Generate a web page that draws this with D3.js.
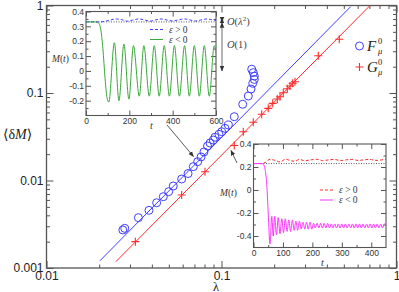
<!DOCTYPE html>
<html>
<head>
<meta charset="utf-8">
<script src="https://cdn.jsdelivr.net/npm/d3@7"></script>
<style>
  body { margin: 0; background: #fff; }
  svg { display: block; font-family: "Liberation Serif", "DejaVu Serif", serif; }
</style>
</head>
<body>
<svg id="chart" width="399" height="292"></svg>
<script>
// ---- main plot data: lambda vs <dM> ----
const fLambda = [0.0273, 0.0280, 0.0335, 0.0385, 0.0426, 0.0465, 0.0499, 0.0530, 0.0592, 0.0644,
    0.0690, 0.0731, 0.0764, 0.0794, 0.0832, 0.0860, 0.0898, 0.0918, 0.0967, 0.1003,
    0.1047, 0.1094, 0.1183, 0.1322, 0.1423, 0.1475, 0.1508, 0.1540, 0.1540, 0.1519, 0.1488];
const fValue = [0.00272, 0.00284, 0.00376, 0.00456, 0.00557, 0.00653, 0.00745, 0.00865, 0.0104, 0.0120,
    0.0144, 0.0164, 0.0186, 0.0212, 0.0248, 0.0268, 0.0290, 0.0312, 0.0337, 0.0361,
    0.0395, 0.0431, 0.0536, 0.0743, 0.0924, 0.111, 0.129, 0.143, 0.156, 0.171, 0.187];

const gLambda = [0.0322, 0.0592, 0.0805, 0.1183, 0.1332, 0.1519, 0.1697, 0.185, 0.1962, 0.2084,
    0.2159, 0.2254, 0.2377, 0.2462, 0.2551, 0.263, 0.3573, 0.4711];
const gValue = [0.0020, 0.00683, 0.0126, 0.0251, 0.0361, 0.0463, 0.0571, 0.0668, 0.0762, 0.0854,
    0.0907, 0.1008, 0.112, 0.1202, 0.129, 0.1346, 0.2668, 0.4109];

// fitted power-law lines (end points)
const fLine = [[0.0202, 0.00121], [0.547, 0.97]];
const gLine = [[0.0249, 0.00118], [0.706, 1.0]];

const xMajor = [0.01, 0.1, 1];
const xLabels = ["0.01", "0.1", "1"];
const yMajor = [0.001, 0.01, 0.1, 1];
const yLabels = ["0.001", "0.01", "0.1", "1"];

// ---- inset 1 (top left): M(t) ----
const in1Dotted = 0.33;
const in1Green = [[0, 0.33], [45, 0.33], [58, 0.322], [68, 0.28], [78, 0.15], [88, -0.05], [97, -0.18],
    [105, -0.21], [131, 0.19], [152, -0.20], [175, 0.18], [198, -0.19], [219, 0.17], [246, -0.17],
    [267, 0.17], [292, -0.17], [315, 0.17], [338, -0.17], [361, 0.17], [385, -0.17], [408, 0.17],
    [431, -0.17], [455, 0.17], [477, -0.17], [500, 0.17], [523, -0.17], [546, 0.17], [569, -0.17],
    [592, 0.17], [600, 0.12]];
const in1Blue = [[0, 0.33], [60, 0.33], [85, 0.333], [110, 0.342], [140, 0.35], [165, 0.345],
    [190, 0.335], [215, 0.342], [245, 0.35], [270, 0.343], [295, 0.335], [320, 0.343], [350, 0.35],
    [375, 0.342], [400, 0.336], [425, 0.343], [455, 0.35], [480, 0.343], [505, 0.336], [530, 0.343],
    [560, 0.35], [585, 0.343], [600, 0.34]];
const in1XTicks = [0, 200, 400, 600];
const in1YTicks = [0.4, 0.3, 0.2, 0.1, 0, -0.1, -0.2];
const in1YLabels = ["0.4", "0.3", "0.2", "0.1", "0", "-0.1", "-0.2"];

// ---- inset 2 (bottom right): M(t) ----
const in2Dotted = 0.23;
const in2Magenta = [[0, 0.23], [25, 0.23], [33, 0.225], [40, 0.17], [45, 0.05], [50, -0.2], [56, -0.47],
    [62, -0.23], [67, -0.40], [72, -0.23], [78, -0.39], [84, -0.24], [90, -0.38], [96, -0.25],
    [102, -0.37], [108, -0.25], [114, -0.36], [120, -0.26], [126, -0.36], [132, -0.26], [138, -0.35],
    [144, -0.27], [150, -0.35], [156, -0.27], [162, -0.34], [168, -0.28], [174, -0.34], [180, -0.28],
    [186, -0.34], [192, -0.28], [198, -0.34], [204, -0.29], [210, -0.33], [216, -0.29], [222, -0.33],
    [228, -0.29], [234, -0.33], [240, -0.29], [246, -0.33], [252, -0.29], [258, -0.33], [264, -0.295],
    [270, -0.33], [276, -0.295], [282, -0.33], [288, -0.295], [294, -0.33], [300, -0.295], [306, -0.33],
    [312, -0.295], [318, -0.33], [324, -0.295], [330, -0.33], [336, -0.295], [342, -0.33], [348, -0.295],
    [354, -0.33], [360, -0.295], [366, -0.33], [372, -0.295], [378, -0.33], [384, -0.295], [390, -0.33],
    [396, -0.295], [402, -0.33], [408, -0.295], [414, -0.33], [420, -0.295], [426, -0.33], [432, -0.295],
    [438, -0.33], [444, -0.295], [450, -0.31]];
const in2Red = [[0, 0.23], [28, 0.23], [40, 0.24], [56, 0.267], [70, 0.26], [90, 0.245], [110, 0.268],
    [125, 0.255], [140, 0.25], [155, 0.265], [175, 0.255], [195, 0.262], [215, 0.267], [235, 0.255],
    [255, 0.262], [275, 0.266], [295, 0.256], [315, 0.262], [335, 0.266], [355, 0.257], [375, 0.262],
    [395, 0.266], [415, 0.257], [435, 0.262], [450, 0.268]];
const in2XTicks = [0, 100, 200, 300, 400];
const in2YTicks = [0.4, 0.2, 0, -0.2, -0.4];
const in2YLabels = ["0.4", "0.2", "0", "-0.2", "-0.4"];

const BLUE = "#3f3fff", RED = "#ff2b2b", GREEN = "#3aa83a", MAGENTA = "#ff33ff";
const FRAME = "#555";

const svg = d3.select("#chart");

// main scales
const x = d3.scaleLog().domain([0.01, 1]).range([46.5, 396.5]);
const y = d3.scaleLog().domain([0.001, 1]).range([268, 5.5]);

function logMinor(scale) {
    return scale.ticks().filter(v => Math.abs(Math.log10(v) - Math.round(Math.log10(v))) > 1e-6);
}

function styleAxis(sel) {
    sel.select(".domain").remove();
    sel.selectAll(".tick line").attr("stroke", FRAME).attr("stroke-width", 1);
    return sel;
}

const main = svg.append("g");

// frame
main.append("rect")
    .attr("x", x.range()[0]).attr("y", y.range()[1])
    .attr("width", x.range()[1] - x.range()[0])
    .attr("height", y.range()[0] - y.range()[1])
    .attr("fill", "none").attr("stroke", FRAME).attr("stroke-width", 1.3);

// minor ticks on all sides
[[d3.axisBottom, x, `translate(0,${y.range()[0]})`], [d3.axisTop, x, `translate(0,${y.range()[1]})`],
 [d3.axisLeft, y, `translate(${x.range()[0]},0)`], [d3.axisRight, y, `translate(${x.range()[1]},0)`]]
    .forEach(([ax, sc, tr]) => {
        main.append("g").attr("transform", tr)
            .call(ax(sc).tickValues(logMinor(sc)).tickSize(-3.5).tickFormat(""))
            .call(styleAxis);
    });

// major ticks
main.append("g").attr("transform", `translate(0,${y.range()[0]})`)
    .call(d3.axisBottom(x).tickValues(xMajor).tickSize(-7).tickPadding(3.5).tickFormat((d, i) => xLabels[i]))
    .call(styleAxis)
    .call(g => g.selectAll("text").attr("font-size", 12).attr("fill", "#222").attr("font-family", null));
main.append("g").attr("transform", `translate(0,${y.range()[1]})`)
    .call(d3.axisTop(x).tickValues(xMajor).tickSize(-7).tickFormat(""))
    .call(styleAxis);
main.append("g").attr("transform", `translate(${x.range()[0]},0)`)
    .call(d3.axisLeft(y).tickValues(yMajor).tickSize(-7).tickPadding(3).tickFormat((d, i) => yLabels[i]))
    .call(styleAxis)
    .call(g => g.selectAll("text").attr("font-size", 12).attr("fill", "#222").attr("font-family", null));
main.append("g").attr("transform", `translate(${x.range()[1]},0)`)
    .call(d3.axisRight(y).tickValues(yMajor).tickSize(-7).tickFormat(""))
    .call(styleAxis);

// axis titles
main.append("text")
    .attr("x", 216).attr("y", 290.5)
    .attr("text-anchor", "middle").attr("font-size", 12.5).attr("fill", "#222")
    .text("λ");
const yt = main.append("text")
    .attr("x", 3).attr("y", 139)
    .attr("font-size", 14).attr("fill", "#222");
yt.append("tspan").text("⟨δ");
yt.append("tspan").attr("font-style", "italic").text("M");
yt.append("tspan").text("⟩");

// fit lines
const line = d3.line().x(d => x(d[0])).y(d => y(d[1]));
main.append("path").attr("d", line(fLine)).attr("stroke", BLUE).attr("stroke-width", 1).attr("fill", "none");
main.append("path").attr("d", line(gLine)).attr("stroke", RED).attr("stroke-width", 1).attr("fill", "none");

// F circles
main.selectAll(".fpt").data(fLambda).enter().append("circle")
    .attr("class", "fpt")
    .attr("cx", d => x(d)).attr("cy", (d, i) => y(fValue[i]))
    .attr("r", 4).attr("fill", "none").attr("stroke", BLUE).attr("stroke-width", 1);

// G crosses
main.selectAll(".gpt").data(gLambda).enter().append("path")
    .attr("class", "gpt")
    .attr("transform", (d, i) => `translate(${x(d)},${y(gValue[i])})`)
    .attr("d", "M-4,0H4M0,-4V4")
    .attr("stroke", RED).attr("stroke-width", 1.1);

// legend
const leg = main.append("g").attr("font-size", 15).attr("fill", "#222");
leg.append("circle").attr("cx", 359.5).attr("cy", 46).attr("r", 4)
    .attr("fill", "none").attr("stroke", BLUE);
leg.append("path").attr("d", "M355.5,67H363.5M359.5,63V71").attr("stroke", RED).attr("stroke-width", 1.1);
[["F", 51], ["G", 72]].forEach(([s, yy]) => {
    const t = leg.append("text").attr("x", 367).attr("y", yy);
    t.append("tspan").attr("font-style", "italic").text(s);
    leg.append("text").attr("x", 378).attr("y", yy - 7.5).attr("font-size", 8.5).text("0");
    leg.append("text").attr("x", 378).attr("y", yy + 3).attr("font-size", 8.5).attr("font-style", "italic").text("μ");
});

// arrows pointing from insets to the data
const defs = svg.append("defs");
defs.append("marker").attr("id", "ah").attr("viewBox", "0 0 10 10").attr("refX", 9).attr("refY", 5)
    .attr("markerWidth", 7).attr("markerHeight", 7).attr("orient", "auto-start-reverse")
    .append("path").attr("d", "M0,1L10,5L0,9z").attr("fill", "#333");

main.append("line").attr("x1", 167).attr("y1", 125).attr("x2", 193.5).attr("y2", 156.5)
    .attr("stroke", "#333").attr("stroke-width", 0.8).attr("marker-end", "url(#ah)");
main.append("line").attr("x1", 237).attr("y1", 163).attr("x2", 231).attr("y2", 150.5)
    .attr("stroke", "#333").attr("stroke-width", 0.8).attr("marker-end", "url(#ah)");

// ---- inset helper ----
function drawInset(opt) {
    const g = svg.append("g");
    const ix = d3.scaleLinear().domain(opt.xDomain).range(opt.xRange);
    const iy = d3.scaleLinear().domain(opt.yDomain).range(opt.yRange);
    g.append("rect")
        .attr("x", opt.xRange[0]).attr("y", opt.yRange[1])
        .attr("width", opt.xRange[1] - opt.xRange[0]).attr("height", opt.yRange[0] - opt.yRange[1])
        .attr("fill", "#fff").attr("stroke", FRAME).attr("stroke-width", 1.1);

    const sides = [[d3.axisBottom, ix, `translate(0,${opt.yRange[0]})`, opt.xMinor],
        [d3.axisTop, ix, `translate(0,${opt.yRange[1]})`, opt.xMinor],
        [d3.axisLeft, iy, `translate(${opt.xRange[0]},0)`, opt.yMinor],
        [d3.axisRight, iy, `translate(${opt.xRange[1]},0)`, opt.yMinor]];
    sides.forEach(([ax, sc, tr, vals]) => {
        g.append("g").attr("transform", tr)
            .call(ax(sc).tickValues(vals).tickSize(-2.5).tickFormat("")).call(styleAxis);
    });
    g.append("g").attr("transform", `translate(0,${opt.yRange[0]})`)
        .call(d3.axisBottom(ix).tickValues(opt.xTicks).tickSize(-5).tickPadding(2.5).tickFormat(d3.format("d")))
        .call(styleAxis)
        .call(s => s.selectAll("text").attr("font-size", 8.5).attr("fill", "#333").attr("font-family", null));
    g.append("g").attr("transform", `translate(0,${opt.yRange[1]})`)
        .call(d3.axisTop(ix).tickValues(opt.xTicks).tickSize(-5).tickFormat("")).call(styleAxis);
    g.append("g").attr("transform", `translate(${opt.xRange[0]},0)`)
        .call(d3.axisLeft(iy).tickValues(opt.yTicks).tickSize(-5).tickPadding(2)
            .tickFormat((d, i) => opt.yLabels[i]))
        .call(styleAxis)
        .call(s => s.selectAll("text").attr("font-size", 8.5).attr("fill", "#333").attr("font-family", null));
    g.append("g").attr("transform", `translate(${opt.xRange[1]},0)`)
        .call(d3.axisRight(iy).tickValues(opt.yTicks).tickSize(-5).tickFormat("")).call(styleAxis);

    const clipId = opt.id + "clip";
    defs.append("clipPath").attr("id", clipId).append("rect")
        .attr("x", opt.xRange[0]).attr("y", opt.yRange[1])
        .attr("width", opt.xRange[1] - opt.xRange[0]).attr("height", opt.yRange[0] - opt.yRange[1]);
    const plot = g.append("g").attr("clip-path", `url(#${clipId})`);
    const ln = d3.line().x(d => ix(d[0])).y(d => iy(d[1])).curve(d3.curveMonotoneX);

    plot.append("line")
        .attr("x1", opt.xRange[0]).attr("x2", opt.xRange[1])
        .attr("y1", iy(opt.dotted)).attr("y2", iy(opt.dotted))
        .attr("stroke", "#333").attr("stroke-width", 0.8).attr("stroke-dasharray", "1,1.5");
    opt.series.forEach(s => {
        plot.append("path").attr("d", ln(s.data)).attr("fill", "none")
            .attr("stroke", s.color).attr("stroke-width", 1).attr("stroke-dasharray", s.dash || null);
    });

    // legend
    opt.series.forEach((s, i) => {
        const ly = opt.legendY + i * 10;
        g.append("line").attr("x1", opt.legendX).attr("x2", opt.legendX + 13)
            .attr("y1", ly).attr("y2", ly).attr("stroke", s.color).attr("stroke-width", 1)
            .attr("stroke-dasharray", s.dash || null);
        const t = g.append("text").attr("x", opt.legendX + 19).attr("y", ly + 3)
            .attr("font-size", 9.5).attr("fill", "#333");
        t.append("tspan").attr("font-style", "italic").text("ε");
        t.append("tspan").text(s.label);
    });

    const mt = g.append("text").attr("x", opt.mLabel[0]).attr("y", opt.mLabel[1])
        .attr("font-size", 9.5).attr("fill", "#333");
    mt.append("tspan").attr("font-style", "italic").text("M");
    mt.append("tspan").text("(");
    mt.append("tspan").attr("font-style", "italic").text("t");
    mt.append("tspan").text(")");
    g.append("text").attr("x", opt.tLabel[0]).attr("y", opt.tLabel[1])
        .attr("font-size", 10).attr("font-style", "italic").attr("fill", "#333").text("t");
    return { g, ix, iy };
}

const inset1 = drawInset({
    id: "in1",
    xDomain: [0, 600], xRange: [86, 216],
    yDomain: [-0.3, 0.4], yRange: [115.5, 11.5],
    xTicks: in1XTicks, xMinor: [100, 300, 500],
    yTicks: in1YTicks, yLabels: in1YLabels,
    yMinor: [0.35, 0.25, 0.15, 0.05, -0.05, -0.15, -0.25],
    dotted: in1Dotted,
    series: [
        { data: in1Blue, color: BLUE, dash: "3,2", label: " > 0" },
        { data: in1Green, color: GREEN, label: " < 0" }
    ],
    legendX: 150, legendY: 29.5,
    mLabel: [52, 62], tLabel: [150, 129]
});

const inset2 = drawInset({
    id: "in2",
    xDomain: [0, 450], xRange: [253.5, 386],
    yDomain: [-0.5, 0.4], yRange: [247.5, 144],
    xTicks: in2XTicks, xMinor: [50, 150, 250, 350],
    yTicks: in2YTicks, yLabels: in2YLabels,
    yMinor: [0.3, 0.1, -0.1, -0.3],
    dotted: in2Dotted,
    series: [
        { data: in2Red, color: RED, dash: "3,2", label: " > 0" },
        { data: in2Magenta, color: MAGENTA, label: " < 0" }
    ],
    legendX: 320, legendY: 190,
    mLabel: [220, 196], tLabel: [321, 266]
});

// O(lambda^2) and O(1) annotations next to inset 1
const ann = svg.append("g").attr("fill", "#444");
const iy1 = inset1.iy;
ann.append("line").attr("x1", 222).attr("x2", 222).attr("y1", iy1(0.355)).attr("y2", iy1(0.33))
    .attr("stroke", "#444").attr("stroke-width", 0.8)
    .attr("marker-start", "url(#ah)").attr("marker-end", "url(#ah)");
ann.append("line").attr("x1", 222).attr("x2", 222).attr("y1", iy1(0.325)).attr("y2", iy1(0))
    .attr("stroke", "#444").attr("stroke-width", 0.8)
    .attr("marker-start", "url(#ah)").attr("marker-end", "url(#ah)");
const o2 = ann.append("text").attr("x", 227).attr("y", 25).attr("font-size", 10.5);
o2.append("tspan").attr("font-style", "italic").text("O");
o2.append("tspan").text("(");
o2.append("tspan").attr("font-style", "italic").text("λ");
o2.append("tspan").attr("font-size", 7).attr("dy", -4).text("2");
o2.append("tspan").attr("dy", 4).text(")");
const o1 = ann.append("text").attr("x", 227).attr("y", 48).attr("font-size", 10.5);
o1.append("tspan").attr("font-style", "italic").text("O");
o1.append("tspan").text("(1)");
</script>
</body>
</html>
